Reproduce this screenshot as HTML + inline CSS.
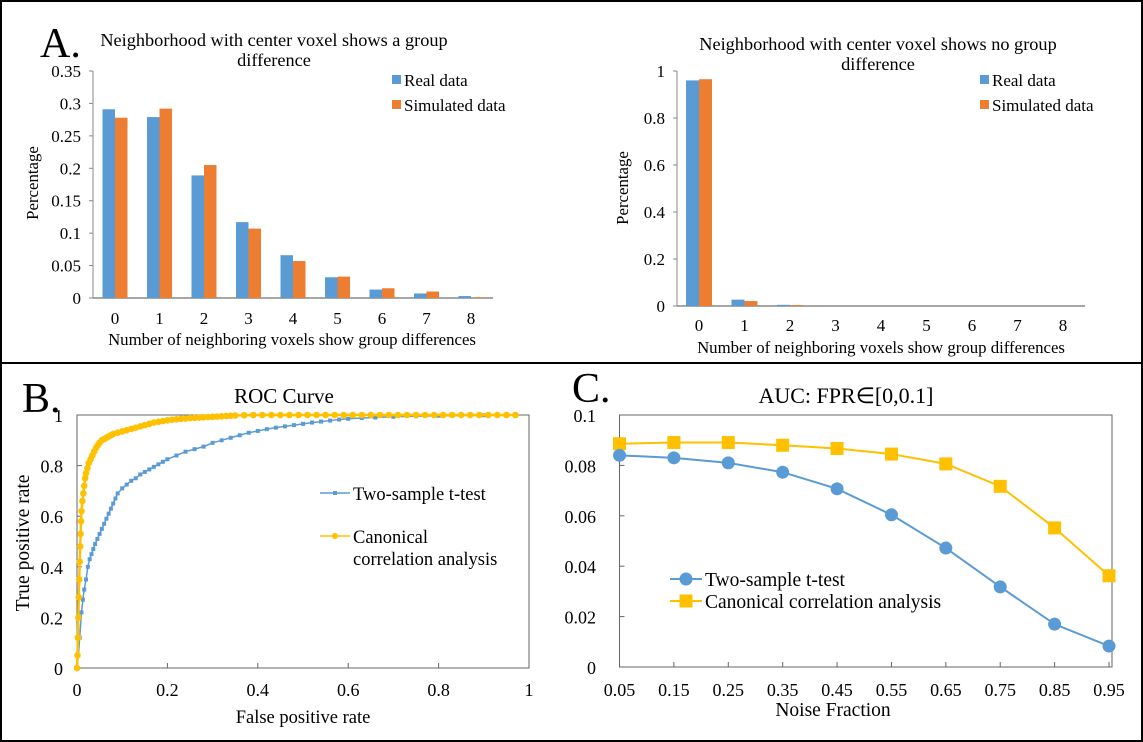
<!DOCTYPE html>
<html><head><meta charset="utf-8"><style>
html,body{margin:0;padding:0;background:#fff;}
svg{display:block;font-family:"Liberation Serif",serif;}
</style></head><body>
<svg id="fig" width="1143" height="742" viewBox="0 0 1143 742" xmlns="http://www.w3.org/2000/svg">
<rect x="1" y="1" width="1141" height="740" fill="#fff" stroke="#000" stroke-width="2"/>
<line x1="0" y1="363" x2="1143" y2="363" stroke="#000" stroke-width="2"/>
<text x="40" y="57" font-size="42">A.</text>
<text x="22" y="412" font-size="42">B.</text>
<text x="572" y="402" font-size="42">C.</text>
<g id="a1"></g>
<g id="a2"></g>
<g id="b"></g>
<g id="c"></g>
</svg>
<script>
const barCats=["0","1","2","3","4","5","6","7","8"];
const a1Real=[0.291,0.279,0.189,0.117,0.066,0.032,0.013,0.007,0.003];
const a1Sim=[0.278,0.292,0.205,0.107,0.057,0.033,0.015,0.010,0.001];
const a1Ticks=[0,0.05,0.1,0.15,0.2,0.25,0.3,0.35];
const a1TickLabels=["0","0.05","0.1","0.15","0.2","0.25","0.3","0.35"];
const a2Real=[0.960,0.027,0.005,0,0,0,0,0,0];
const a2Sim=[0.965,0.021,0.004,0,0,0,0,0,0];
const a2Ticks=[0,0.2,0.4,0.6,0.8,1];
const a2TickLabels=["0","0.2","0.4","0.6","0.8","1"];
const rocTX=[0,0.003,0.006,0.01,0.013,0.016,0.02,0.024,0.028,0.032,0.036,0.04,0.045,0.05,0.055,0.06,0.065,0.07,0.075,0.08,0.085,0.09,0.1,0.11,0.12,0.13,0.14,0.15,0.16,0.17,0.18,0.19,0.2,0.22,0.24,0.26,0.28,0.3,0.32,0.34,0.36,0.38,0.4,0.42,0.44,0.46,0.48,0.5,0.52,0.54,0.56,0.58,0.6,0.63,0.66,0.7,0.75,0.8,0.85,0.9,0.97];
const rocTY=[0,0.05,0.12,0.22,0.27,0.31,0.35,0.40,0.43,0.45,0.47,0.49,0.51,0.53,0.55,0.57,0.59,0.61,0.63,0.65,0.67,0.69,0.71,0.725,0.74,0.75,0.765,0.775,0.785,0.795,0.805,0.815,0.825,0.84,0.855,0.865,0.875,0.89,0.9,0.91,0.92,0.93,0.937,0.944,0.95,0.955,0.96,0.965,0.97,0.974,0.978,0.982,0.985,0.988,0.99,0.993,0.995,0.997,0.998,0.999,1];
const rocCX=[0,0.001,0.002,0.003,0.004,0.005,0.006,0.007,0.008,0.009,0.01,0.012,0.014,0.016,0.018,0.02,0.023,0.026,0.03,0.034,0.038,0.042,0.046,0.05,0.055,0.06,0.065,0.07,0.075,0.08,0.09,0.1,0.11,0.12,0.13,0.14,0.15,0.16,0.17,0.18,0.19,0.2,0.21,0.22,0.23,0.24,0.25,0.26,0.27,0.28,0.29,0.3,0.31,0.32,0.33,0.34,0.35,0.37,0.39,0.41,0.43,0.45,0.47,0.49,0.51,0.53,0.55,0.57,0.59,0.61,0.63,0.65,0.67,0.69,0.71,0.73,0.75,0.77,0.79,0.81,0.83,0.85,0.87,0.89,0.91,0.93,0.95,0.97];
const rocCY=[0,0.05,0.12,0.2,0.28,0.35,0.42,0.48,0.53,0.58,0.62,0.66,0.69,0.72,0.75,0.77,0.79,0.81,0.825,0.84,0.855,0.87,0.88,0.89,0.9,0.905,0.91,0.915,0.92,0.925,0.93,0.935,0.94,0.945,0.95,0.955,0.96,0.965,0.97,0.973,0.976,0.979,0.981,0.983,0.985,0.986,0.988,0.989,0.99,0.991,0.992,0.993,0.994,0.995,0.996,0.997,0.998,0.999,1,1,1,1,1,1,1,1,1,1,1,1,1,1,1,1,1,1,1,1,1,1,1,1,1,1,1,1,1,1];
const rocTicks=[0,0.2,0.4,0.6,0.8,1];
const rocTickLabels=["0","0.2","0.4","0.6","0.8","1"];
const aucCats=["0.05","0.15","0.25","0.35","0.45","0.55","0.65","0.75","0.85","0.95"];
const aucT=[0.084,0.083,0.081,0.0773,0.0707,0.0604,0.0472,0.0318,0.0170,0.0083];
const aucC=[0.0886,0.0891,0.0891,0.0880,0.0867,0.0845,0.0806,0.0717,0.0552,0.0362];
const aucTicks=[0,0.02,0.04,0.06,0.08,0.1];
const aucTickLabels=["0","0.02","0.04","0.06","0.08","0.1"];

const NS="http://www.w3.org/2000/svg";
function mk(parent,tag,attrs,text){const e=document.createElementNS(NS,tag);for(const k in attrs)e.setAttribute(k,attrs[k]);if(text!==undefined)e.textContent=text;parent.appendChild(e);return e;}
const BLUE="#5b9bd5",ORANGE="#ed7d31",GOLD="#ffc000";

function barChart(g,o){
  const yS=v=>o.y0-(v/o.ymax)*(o.y0-o.y1);
  const xS=i=>o.c0+i*o.step;
  let e=mk(g,'line',{x1:o.ax,y1:o.y1,x2:o.ax,y2:o.y0,stroke:'#888','stroke-width':1});
  
  e=mk(g,'line',{x1:o.ax,y1:o.y0,x2:o.axEnd,y2:o.y0,stroke:'#888','stroke-width':1.5});
  
  o.ticks.forEach((t,i)=>{
    let l=mk(g,'line',{x1:o.ax-4,y1:yS(t),x2:o.ax,y2:yS(t),stroke:'#888'});
    
    let tx=mk(g,'text',{x:o.ax-12,y:yS(t)+6,'font-size':17,'text-anchor':'end'},o.tickLabels[i]);
    
  });
  barCats.forEach((c,i)=>{
    const cx=xS(i);
    let r=mk(g,'rect',{x:cx-o.bw,y:yS(o.real[i]),width:o.bw,height:o.y0-yS(o.real[i]),fill:BLUE});
    
    r=mk(g,'rect',{x:cx,y:yS(o.sim[i]),width:o.bw,height:o.y0-yS(o.sim[i]),fill:ORANGE});
    
    let t=mk(g,'text',{x:cx,y:o.xl,'font-size':17,'text-anchor':'middle'},c);
    
  });
  let t=mk(g,'text',{x:o.xtx,y:o.xty,'font-size':16.8,'text-anchor':'middle'},'Number of neighboring voxels show group differences');
  
  t=mk(g,'text',{x:o.ytx,y:o.yty,'font-size':16.8,'text-anchor':'middle',transform:`rotate(-90 ${o.ytx} ${o.yty})`},'Percentage');
  
  t=mk(g,'text',{x:o.tx,y:o.ty,'font-size':18.3,'text-anchor':'middle'},o.title1);
  
  t=mk(g,'text',{x:o.tx,y:o.ty+20,'font-size':18.3,'text-anchor':'middle'},'difference');
  
  [['Real data',BLUE,o.ly],['Simulated data',ORANGE,o.ly+25]].forEach(([lab,col,y])=>{
    let s=mk(g,'rect',{x:o.lx,y:y-5,width:9,height:9,fill:col});
    
    let tt=mk(g,'text',{x:o.lx+12,y:y+6,'font-size':17},lab);
    
  });
}
barChart(document.getElementById('a1'),{ax:93,axEnd:493,y0:298,y1:71,ymax:0.35,c0:115,step:44.5,bw:12.5,real:a1Real,sim:a1Sim,ticks:a1Ticks,tickLabels:a1TickLabels,xl:324,xtx:292,xty:345,ytx:38,yty:183,tx:274,ty:46,title1:'Neighborhood with center voxel shows a group',lx:392,ly:80});
barChart(document.getElementById('a2'),{ax:677,axEnd:1085,y0:306,y1:71,ymax:1,c0:699,step:45.5,bw:13,real:a2Real,sim:a2Sim,ticks:a2Ticks,tickLabels:a2TickLabels,xl:331,xtx:881,xty:353,ytx:628,yty:188,tx:878,ty:50,title1:'Neighborhood with center voxel shows no group',lx:980,ly:80});

// ROC
(function(){
  const g=document.getElementById('b');
  const L=77,R=529,T=415,B=668;
  const xS=v=>L+v*(R-L), yS=v=>B-v*(B-T);
  let e=mk(g,'rect',{x:L,y:T,width:R-L,height:B-T,fill:'none',stroke:'#666','stroke-width':1});
  
  rocTicks.forEach((t,i)=>{
    let l=mk(g,'line',{x1:xS(t),y1:B,x2:xS(t),y2:B-5,stroke:'#666'});
    
    l=mk(g,'line',{x1:L,y1:yS(t),x2:L+5,y2:yS(t),stroke:'#666'});
    
    let tx=mk(g,'text',{x:xS(t),y:B+28,'font-size':18,'text-anchor':'middle'},rocTickLabels[i]);
    
    tx=mk(g,'text',{x:L-14,y:yS(t)+7,'font-size':18,'text-anchor':'end'},rocTickLabels[i]);
    
  });
  let p=mk(g,'polyline',{points:rocTX.map((x,i)=>xS(x)+','+yS(rocTY[i])).join(' '),fill:'none',stroke:BLUE,'stroke-width':1.5});
  
  rocTX.forEach((x,i)=>{let m=mk(g,'rect',{x:xS(x)-2,y:yS(rocTY[i])-2,width:4,height:4,fill:BLUE});
    });
  p=mk(g,'polyline',{points:rocCX.map((x,i)=>xS(x)+','+yS(rocCY[i])).join(' '),fill:'none',stroke:GOLD,'stroke-width':2.5});
  
  rocCX.forEach((x,i)=>{let m=mk(g,'circle',{cx:xS(x),cy:yS(rocCY[i]),r:3.3,fill:GOLD});
    });
  let t=mk(g,'text',{x:284,y:403,'font-size':21,'text-anchor':'middle'},'ROC Curve');
  
  t=mk(g,'text',{x:303,y:723,'font-size':18.5,'text-anchor':'middle'},'False positive rate');
  
  t=mk(g,'text',{x:29,y:543,'font-size':19.5,'text-anchor':'middle',transform:'rotate(-90 29 543)'},'True positive rate');
  
  let l=mk(g,'line',{x1:320,y1:493,x2:350,y2:493,stroke:BLUE,'stroke-width':1.5});
  l=mk(g,'rect',{x:333,y:491,width:4,height:4,fill:BLUE});
  t=mk(g,'text',{x:353,y:500,'font-size':18.5},'Two-sample t-test');
  l=mk(g,'line',{x1:320,y1:536,x2:350,y2:536,stroke:GOLD,'stroke-width':1.5});
  l=mk(g,'circle',{cx:335,cy:536,r:3,fill:GOLD});
  t=mk(g,'text',{x:353,y:543,'font-size':18.5},'Canonical');
  t=mk(g,'text',{x:353,y:565,'font-size':18.5},'correlation analysis');
})();

// AUC
(function(){
  const g=document.getElementById('c');
  const L=619.5,R=1109,T=415,B=667,YM=0.1;
  const xS=i=>L+i*(R-L)/(aucCats.length-1), yS=v=>B-v/YM*(B-T);
  let e=mk(g,'rect',{x:L,y:T,width:R-L+3,height:B-T,fill:'none',stroke:'#666','stroke-width':1});
  
  aucTicks.forEach((t,i)=>{
    let l=mk(g,'line',{x1:L,y1:yS(t),x2:L+5,y2:yS(t),stroke:'#666'});
    
    let tx=mk(g,'text',{x:596,y:yS(t)+7,'font-size':18,'text-anchor':'end'},aucTickLabels[i]);
    
  });
  aucCats.forEach((c,i)=>{
    let l=mk(g,'line',{x1:xS(i),y1:B,x2:xS(i),y2:B-5,stroke:'#666'});
    
    let tx=mk(g,'text',{x:xS(i),y:696,'font-size':18,'text-anchor':'middle'},c);
    
  });
  let p=mk(g,'polyline',{points:aucC.map((v,i)=>xS(i)+','+yS(v)).join(' '),fill:'none',stroke:GOLD,'stroke-width':2});
  
  aucC.forEach((v,i)=>{let m=mk(g,'rect',{x:xS(i)-6.5,y:yS(v)-6.5,width:13,height:13,fill:GOLD});
    });
  p=mk(g,'polyline',{points:aucT.map((v,i)=>xS(i)+','+yS(v)).join(' '),fill:'none',stroke:BLUE,'stroke-width':2});
  
  aucT.forEach((v,i)=>{let m=mk(g,'circle',{cx:xS(i),cy:yS(v),r:6.5,fill:BLUE});
    });
  let t=mk(g,'text',{x:846,y:403,'font-size':22,'text-anchor':'middle'},'AUC: FPR∈[0,0.1]');
  
  t=mk(g,'text',{x:833,y:716,'font-size':19.5,'text-anchor':'middle'},'Noise Fraction');
  
  let l=mk(g,'line',{x1:670,y1:579,x2:702,y2:579,stroke:BLUE,'stroke-width':2});
  l=mk(g,'circle',{cx:686,cy:579,r:6.5,fill:BLUE});
  t=mk(g,'text',{x:705,y:586,'font-size':19.5},'Two-sample t-test');
  l=mk(g,'line',{x1:670,y1:601,x2:702,y2:601,stroke:GOLD,'stroke-width':2});
  l=mk(g,'rect',{x:679.5,y:594.5,width:13,height:13,fill:GOLD});
  t=mk(g,'text',{x:705,y:608,'font-size':19.5},'Canonical correlation analysis');
})();
</script>
</body></html>
